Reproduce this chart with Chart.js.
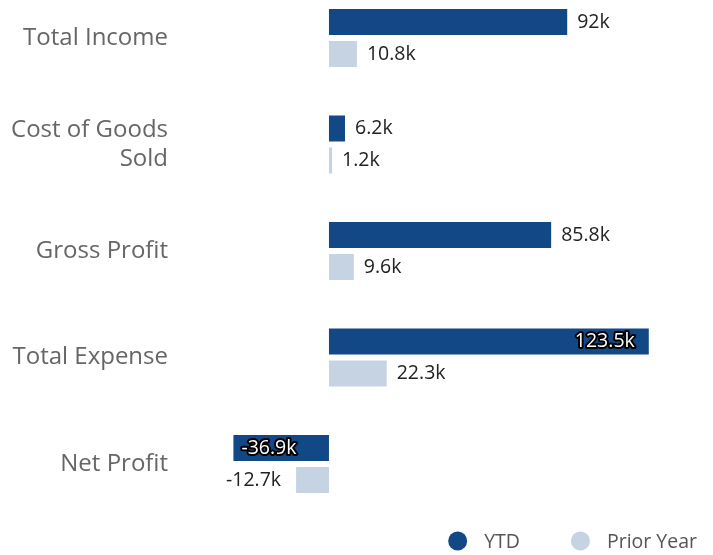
<!DOCTYPE html>
<html>
<head>
<meta charset="utf-8">
<script src="https://cdn.jsdelivr.net/npm/chart.js@4.4.1/dist/chart.umd.min.js"></script>
<style>
  html, body { margin: 0; padding: 0; background: #ffffff; }
  #wrap { width: 713px; height: 555px; position: relative; }
</style>
</head>
<body>
<div id="wrap"><canvas id="c" width="713" height="555"></canvas></div>
<script>
const categories = ["Total Income", ["Cost of Goods", "Sold"], "Gross Profit", "Total Expense", "Net Profit"];
const ytdValues = [92000, 6200, 85800, 123500, -36900];
const priorYearValues = [10800, 1200, 9600, 22300, -12700];
const seriesNames = ["YTD", "Prior Year"];
const seriesColors = ["#134886", "#c5d3e3"];

const FONT = '"Open Sans", "Noto Sans", sans-serif';

function fmtK(v) {
  const k = Math.round(v / 100) / 10;
  return k + "k";
}

const valueLabels = {
  id: 'valueLabels',
  afterDatasetsDraw(chart) {
    const ctx = chart.ctx;
    const area = chart.chartArea;
    ctx.save();
    ctx.font = '19.5px ' + FONT;
    ctx.textBaseline = 'middle';
    chart.data.datasets.forEach((ds, di) => {
      const meta = chart.getDatasetMeta(di);
      meta.data.forEach((bar, i) => {
        const v = ds.data[i];
        const text = fmtK(v);
        const w = ctx.measureText(text).width;
        let x, align, inside = false;
        if (v >= 0) {
          if (bar.x + 10 + w <= area.right) { x = bar.x + 10; align = 'left'; }
          else { x = bar.x - 14; align = 'right'; inside = true; }
        } else {
          if (bar.x - 15 - w >= area.left) { x = bar.x - 15; align = 'right'; }
          else { x = bar.x + 8; align = 'left'; inside = true; }
        }
        ctx.textAlign = align;
        if (inside) {
          ctx.lineWidth = 4;
          ctx.lineJoin = 'round';
          ctx.strokeStyle = '#000000';
          ctx.strokeText(text, x, bar.y);
          ctx.fillStyle = '#ffffff';
          ctx.fillText(text, x, bar.y);
        } else {
          ctx.fillStyle = '#222222';
          ctx.fillText(text, x, bar.y);
        }
      });
    });
    ctx.restore();
  }
};

const customLegend = {
  id: 'customLegend',
  afterDraw(chart) {
    const ctx = chart.ctx;
    ctx.save();
    ctx.font = '19.5px ' + FONT;
    ctx.textBaseline = 'middle';
    ctx.textAlign = 'left';
    const r = 9.5, toText = 26.5, gap = 51, rightEdge = 697, cy = 541;
    const items = chart.data.datasets.map(ds => ({ label: ds.label, color: ds.backgroundColor, w: ctx.measureText(ds.label).width }));
    let total = 0;
    items.forEach((it, i) => { total += r + toText + it.w + (i < items.length - 1 ? gap : 0); });
    let x = rightEdge - total;
    items.forEach(it => {
      ctx.fillStyle = it.color;
      ctx.beginPath();
      ctx.arc(x + r, cy, r, 0, Math.PI * 2);
      ctx.fill();
      ctx.fillStyle = '#555555';
      ctx.fillText(it.label, x + r + toText, cy + 1);
      x += r + toText + it.w + gap;
    });
    ctx.restore();
  }
};

new Chart(document.getElementById('c'), {
  type: 'bar',
  data: {
    labels: categories,
    datasets: [
      { label: seriesNames[0], data: ytdValues, backgroundColor: seriesColors[0], clip: false,
        categoryPercentage: 0.601, barPercentage: 0.8125 },
      { label: seriesNames[1], data: priorYearValues, backgroundColor: seriesColors[1], clip: false,
        categoryPercentage: 0.601, barPercentage: 0.8125 }
    ]
  },
  options: {
    indexAxis: 'y',
    responsive: false,
    animation: false,
    layout: { padding: { top: 38, bottom: 91, left: 0, right: 0 } },
    scales: {
      x: {
        display: false,
        min: -61000,
        max: 148300,
        grid: { display: false }
      },
      y: {
        offset: false,
        grid: { display: false, drawTicks: false },
        border: { display: false },
        afterFit(scale) { scale.width = 171; },
        ticks: {
          padding: 3,
          color: '#666666',
          font: { family: FONT, size: 24, lineHeight: 1.2 }
        }
      }
    },
    plugins: {
      legend: { display: false },
      tooltip: { enabled: false }
    }
  },
  plugins: [valueLabels, customLegend]
});
</script>
</body>
</html>
